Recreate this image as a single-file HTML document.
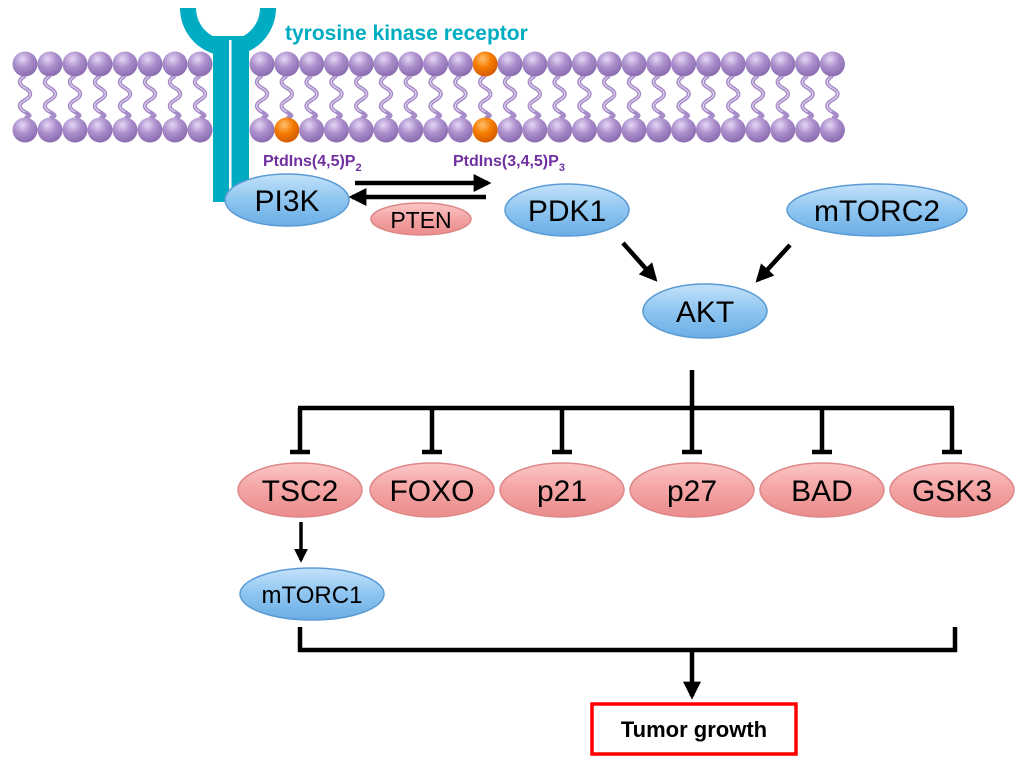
<!DOCTYPE html>
<html><head><meta charset="utf-8"><style>
html,body{margin:0;padding:0;background:#fff;}
svg{display:block;}
text{font-family:"Liberation Sans",Arial,sans-serif;}
</style></head><body>
<svg width="1024" height="766" viewBox="0 0 1024 766" xmlns="http://www.w3.org/2000/svg">
<defs>
<radialGradient id="head" cx="0.4" cy="0.3" r="0.7">
<stop offset="0" stop-color="#e6d6f5"/><stop offset="0.5" stop-color="#ab8fcc"/><stop offset="1" stop-color="#8a6cb0"/></radialGradient>
<radialGradient id="org" cx="0.4" cy="0.3" r="0.7">
<stop offset="0" stop-color="#ffc070"/><stop offset="0.5" stop-color="#f57c00"/><stop offset="1" stop-color="#d45a00"/></radialGradient>
<linearGradient id="blue" x1="0" y1="0" x2="0" y2="1">
<stop offset="0" stop-color="#c4e2fa"/><stop offset="0.5" stop-color="#8ec5f0"/><stop offset="1" stop-color="#6aaee6"/></linearGradient>
<linearGradient id="pink" x1="0" y1="0" x2="0" y2="1">
<stop offset="0" stop-color="#fbc6c6"/><stop offset="0.5" stop-color="#f4a3a3"/><stop offset="1" stop-color="#ea8c8c"/></linearGradient>
<marker id="ah" viewBox="0 0 10 10" refX="8" refY="5" markerWidth="4" markerHeight="4" orient="auto"><path d="M0,0 L10,5 L0,10 z" fill="#000"/></marker>
<g id="tail"><path d="M0,76 c-7,4 -7,8 0,12 s7,8 0,12 s-7,8 0,12 s5,4 0,6" fill="none" stroke="#a58bc7" stroke-width="4"/><path d="M0,76 c-7,4 -7,8 0,12 s7,8 0,12 s-7,8 0,12" fill="none" stroke="#e9dff5" stroke-width="1"/></g>
</defs>

<!-- membrane -->
<g id="mem"></g>
<script>
(function(){
var g=document.getElementById('mem'),ns='http://www.w3.org/2000/svg',xs=[];
for(var i=0;i<8;i++)xs.push(25+i*25);
for(var i=0;i<24;i++)xs.push(262+i*24.8);
xs.forEach(function(x,idx){
 var u=document.createElementNS(ns,'use');u.setAttribute('href','#tail');u.setAttribute('transform','translate('+x+',0)');g.appendChild(u);
});
xs.forEach(function(x,idx){
 [64,130].forEach(function(y){
  var c=document.createElementNS(ns,'circle');c.setAttribute('cx',x);c.setAttribute('cy',y);c.setAttribute('r',12.5);
  var j=idx-8;var o=(y==64&&j==9)||(y==130&&(j==1||j==9));
  c.setAttribute('fill',o?'url(#org)':'url(#head)');g.appendChild(c);
 });
});
})();
</script>

<!-- receptor -->
<path d="M180,8 A48,48 0 0 0 276,8 L260,8 A32,32 0 0 1 196,8 Z" fill="#00acc1"/>
<rect x="213" y="36" width="36" height="166" fill="#00acc1"/>
<rect x="229" y="40" width="2.5" height="162" fill="#fff"/>
<text x="285" y="40" font-size="21" font-weight="bold" fill="#00acc1">tyrosine kinase receptor</text>

<text x="263" y="166" font-size="16" font-weight="bold" fill="#7030a0">PtdIns(4,5)P<tspan font-size="11" dy="5">2</tspan></text>
<text x="453" y="166" font-size="16" font-weight="bold" fill="#7030a0">PtdIns(3,4,5)P<tspan font-size="11" dy="5">3</tspan></text>

<!-- arrows -->
<g stroke="#000" stroke-width="4.5" fill="none">
<line x1="355" y1="183" x2="488" y2="183" marker-end="url(#ah)"/>
<line x1="486" y1="197" x2="352" y2="197" marker-end="url(#ah)"/>
<line x1="623" y1="243" x2="655" y2="279" marker-end="url(#ah)"/>
<line x1="790" y1="245" x2="758" y2="280" marker-end="url(#ah)"/>
</g>

<g stroke-width="1.5">
<ellipse cx="287" cy="200" rx="62" ry="26" fill="url(#blue)" stroke="#5b9bd5"/>
<ellipse cx="421" cy="219" rx="50" ry="16" fill="url(#pink)" stroke="#d88"/>
<ellipse cx="567" cy="210" rx="62" ry="26" fill="url(#blue)" stroke="#5b9bd5"/>
<ellipse cx="877" cy="210" rx="90" ry="26" fill="url(#blue)" stroke="#5b9bd5"/>
<ellipse cx="705" cy="311" rx="62" ry="27" fill="url(#blue)" stroke="#5b9bd5"/>
</g>
<g font-size="30" text-anchor="middle" fill="#000">
<text x="287" y="211">PI3K</text>
<text x="421" y="228" font-size="23">PTEN</text>
<text x="567" y="221">PDK1</text>
<text x="877" y="221">mTORC2</text>
<text x="705" y="322">AKT</text>
</g>

<!-- inhibition tree -->
<g stroke="#000" stroke-width="4.5" fill="none">
<line x1="692" y1="370" x2="692" y2="408"/>
<line x1="298" y1="408" x2="954" y2="408"/>
<line x1="300" y1="408" x2="300" y2="452"/><line x1="290" y1="452" x2="310" y2="452"/>
<line x1="432" y1="408" x2="432" y2="452"/><line x1="422" y1="452" x2="442" y2="452"/>
<line x1="562" y1="408" x2="562" y2="452"/><line x1="552" y1="452" x2="572" y2="452"/>
<line x1="692" y1="408" x2="692" y2="452"/><line x1="682" y1="452" x2="702" y2="452"/>
<line x1="822" y1="408" x2="822" y2="452"/><line x1="812" y1="452" x2="832" y2="452"/>
<line x1="952" y1="408" x2="952" y2="452"/><line x1="942" y1="452" x2="962" y2="452"/>
<line x1="301" y1="522" x2="301" y2="560" stroke-width="3.5" marker-end="url(#ah)"/>
<path d="M300,627 V650 H955 V627"/>
<line x1="692" y1="650" x2="692" y2="696" marker-end="url(#ah)"/>
</g>

<g stroke-width="1.5" fill="url(#pink)" stroke="#d88">
<ellipse cx="300" cy="490" rx="62" ry="27"/>
<ellipse cx="432" cy="490" rx="62" ry="27"/>
<ellipse cx="562" cy="490" rx="62" ry="27"/>
<ellipse cx="692" cy="490" rx="62" ry="27"/>
<ellipse cx="822" cy="490" rx="62" ry="27"/>
<ellipse cx="952" cy="490" rx="62" ry="27"/>
</g>
<g font-size="30" text-anchor="middle" fill="#000">
<text x="300" y="501">TSC2</text>
<text x="432" y="501">FOXO</text>
<text x="562" y="501">p21</text>
<text x="692" y="501">p27</text>
<text x="822" y="501">BAD</text>
<text x="952" y="501">GSK3</text>
</g>

<ellipse cx="312" cy="594" rx="72" ry="26" fill="url(#blue)" stroke="#5b9bd5" stroke-width="1.5"/>
<text x="312" y="603" font-size="24" text-anchor="middle">mTORC1</text>

<rect x="592" y="704" width="204" height="50" fill="#fff" stroke="#ff0000" stroke-width="3.5"/>
<text x="694" y="737" font-size="22" font-weight="bold" text-anchor="middle">Tumor growth</text>
</svg>
</body></html>
